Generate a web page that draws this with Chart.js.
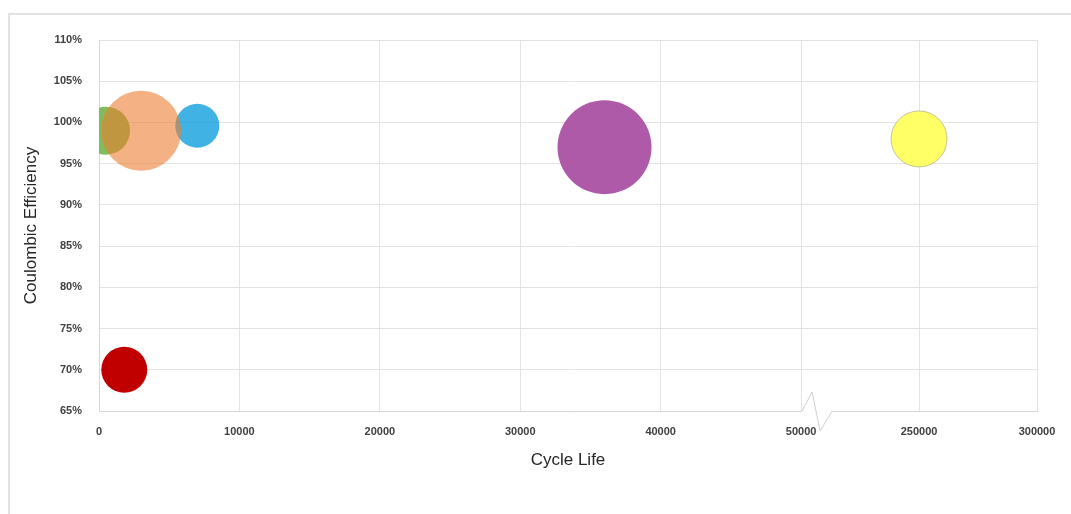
<!DOCTYPE html>
<html>
<head>
<meta charset="utf-8">
<script src="https://cdn.jsdelivr.net/npm/chart.js@4/dist/chart.umd.min.js"></script>
<style>
    html, body { margin: 0; padding: 0; background: #fff; }
    #frame {
        position: absolute; left: 8px; top: 13px; width: 1063px; height: 501px;
        border-top: 2px solid #e2e2e2; border-left: 2px solid #e2e2e2;
    }
    #wrap { position: absolute; left: 0; top: 0; width: 1071px; height: 514px; }
</style>
</head>
<body>
<div id="frame"></div>
<div id="wrap"><canvas id="myChart" width="1071" height="514"></canvas></div>
<script>
// Dados
const cycleLife = [500, 3000, 7000, 1800, 36000, 250000];
const efficiency = [99, 99, 99.6, 70, 97, 98];
const bubbleSize = [24, 40, 22, 23, 47, 28];
const xTickValues = [0, 10000, 20000, 30000, 40000, 50000, 250000, 300000];
const yMin = 65, yMax = 110, yStep = 5;

// Cores das bolhas
const fills = ['rgba(112,180,70,0.88)', 'rgba(237,125,49,0.6)', 'rgba(0,153,219,0.75)',
               '#C00000', '#AF5AA9', '#FFFF66'];
const borders = ['rgba(0,0,0,0)', 'rgba(0,0,0,0)', 'rgba(0,0,0,0)',
                 'rgba(0,0,0,0)', 'rgba(0,0,0,0)', 'rgba(190,190,150,0.9)'];

// Eixo X quebrado: 0-50000 linear, depois salto até 250000/300000
const BREAK_AT = 50000;
function toAxis(v) {
    return v <= BREAK_AT ? v : BREAK_AT + (v - 200000) * 0.168;
}
const xMax = toAxis(300000);

const datasets = cycleLife.map((x, i) => ({
    data: [{ x: toAxis(x), y: efficiency[i], r: bubbleSize[i] }],
    backgroundColor: fills[i],
    borderColor: borders[i],
    borderWidth: i === 5 ? 1 : 0,
    order: i === 1 ? 0 : 1 // laranja por cima do verde
}));

// Desenha o símbolo de quebra no eixo X
const axisBreak = {
    id: 'axisBreak',
    afterDraw(chart) {
        const ctx = chart.ctx;
        const xs = chart.scales.x;
        const x0 = xs.getPixelForValue(BREAK_AT) + 1;
        const y0 = chart.chartArea.bottom;
        ctx.save();
        ctx.fillStyle = '#fff';
        ctx.fillRect(x0, y0 - 2, 30, 4);
        ctx.strokeStyle = '#cfcfcf';
        ctx.lineWidth = 1;
        ctx.beginPath();
        ctx.moveTo(x0, y0);
        ctx.lineTo(x0 + 10, y0 - 19);
        ctx.lineTo(x0 + 18, y0 + 20);
        ctx.lineTo(x0 + 30, y0);
        ctx.stroke();
        ctx.restore();
    }
};

const tickFont = { family: 'Liberation Sans', size: 11, weight: 'bold' };
const titleFont = { family: 'Liberation Sans', size: 17 };

const ctx = document.getElementById('myChart').getContext('2d');
new Chart(ctx, {
    type: 'bubble',
    data: { datasets: datasets },
    options: {
        responsive: false,
        animation: false,
        layout: { autoPadding: false, padding: { left: 17, top: 40, right: 34, bottom: 39 } },
        plugins: { legend: { display: false }, tooltip: { enabled: false } },
        scales: {
            x: {
                type: 'linear',
                min: 0,
                max: xMax,
                afterBuildTicks: (scale) => {
                    scale.ticks = xTickValues.map(v => ({ value: toAxis(v) }));
                },
                afterFit: (scale) => { scale.height = 64; },
                ticks: {
                    autoSkip: false,
                    maxRotation: 0,
                    padding: 14,
                    color: '#404040',
                    font: tickFont,
                    callback: function (value) {
                        const v = xTickValues.find(t => Math.abs(toAxis(t) - value) < 1);
                        return v === undefined ? '' : String(v);
                    }
                },
                grid: { color: '#e3e3e3', drawTicks: false },
                border: { color: '#d6d6d6' },
                title: { display: true, text: 'Cycle Life', color: '#262626', font: titleFont }
            },
            y: {
                min: yMin,
                max: yMax,
                afterFit: (scale) => { scale.width = 82; },
                ticks: {
                    stepSize: yStep,
                    padding: 17,
                    color: '#404040',
                    font: tickFont,
                    callback: (v) => v + '%'
                },
                grid: { color: '#e3e3e3', drawTicks: false },
                border: { color: '#d6d6d6' },
                title: { display: true, text: 'Coulombic Efficiency', color: '#262626', font: titleFont }
            }
        }
    },
    plugins: [axisBreak]
});
</script>
</body>
</html>
